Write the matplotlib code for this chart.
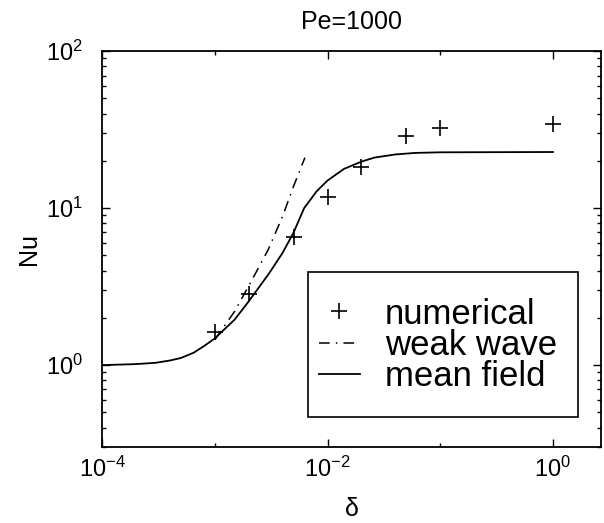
import numpy as np
import matplotlib
matplotlib.use("Agg")
import matplotlib.pyplot as plt
from matplotlib.ticker import LogLocator, NullFormatter, FixedLocator
from matplotlib.patches import Rectangle

plt.rcParams['font.family'] = ['Liberation Sans', 'DejaVu Sans']
plt.rcParams['mathtext.fontset'] = 'custom'
plt.rcParams['mathtext.rm'] = 'Liberation Sans'
plt.rcParams['mathtext.it'] = 'Liberation Sans:italic'

# numerical results
num_delta = [1e-3, 2e-3, 5e-3, 1e-2, 2e-2, 5e-2, 1e-1, 1.0]
num_nu = [1.62, 2.82, 6.6, 11.7, 18.4, 28.9, 32.4, 34.4]

# weak wave approximation
weak_delta = [1e-3, 1.5e-3, 2e-3, 2.5e-3, 3e-3, 4e-3, 5e-3, 6.3e-3]
weak_nu = [1.45, 2.2, 3.2, 4.3, 5.5, 8.9, 13.8, 21.0]

# mean field theory
mean_delta = [1e-4, 2e-4, 3e-4, 4e-4, 5e-4, 6.5e-4, 8e-4, 1e-3, 1.5e-3, 2e-3, 3e-3,
              4e-3, 5e-3, 6.2e-3, 8e-3, 1e-2, 1.4e-2, 2e-2, 2.6e-2, 4e-2, 6e-2, 1e-1, 1.0]
mean_nu = [1.0, 1.015, 1.035, 1.07, 1.11, 1.2, 1.32, 1.48, 1.95, 2.55, 3.8,
           5.2, 7.0, 10.0, 12.8, 15.0, 17.8, 19.8, 21.0, 22.0, 22.5, 22.7, 22.8]

fig = plt.figure(figsize=(6.04, 5.23), dpi=100)
ax = fig.add_axes([0.169, 0.145, 0.826, 0.757])

ax.plot(num_delta, num_nu, linestyle='none', marker='+', color='black',
        markersize=11, markeredgewidth=1.2, label='numerical')
ax.plot(weak_delta, weak_nu, linestyle='-.', color='black', lw=1.1, label='weak wave',
        dashes=(7, 4, 1, 4))
ax.plot(mean_delta, mean_nu, linestyle='-', color='black', lw=1.3, label='mean field')

ax.set_xscale('log')
ax.set_yscale('log')
ax.set_xlim(1e-4, 10 ** 0.426)
ax.set_ylim(0.3, 100)

ax.xaxis.set_major_locator(FixedLocator([1e-4, 1e-2, 1e0]))
ax.xaxis.set_minor_locator(FixedLocator([1e-3, 1e-1]))
ax.xaxis.set_minor_formatter(NullFormatter())
ax.yaxis.set_major_locator(FixedLocator([1e0, 1e1, 1e2]))
ax.yaxis.set_minor_locator(LogLocator(base=10, subs=np.arange(2, 10), numticks=20))
ax.yaxis.set_minor_formatter(NullFormatter())

ax.tick_params(which='both', direction='in', top=True, right=True, labelsize=17, width=1)
ax.tick_params(which='major', length=6)
ax.tick_params(axis='x', which='major', pad=7)
ax.tick_params(axis='y', which='major', pad=14)
ax.tick_params(which='minor', length=3)
for s in ax.spines.values():
    s.set_linewidth(1.3)

ax.set_title('Pe=1000', fontsize=18, pad=16)
ax.set_xlabel('δ', fontsize=18, labelpad=11)
ax.set_ylabel('Nu', fontsize=18, labelpad=3)

# legend box (axes fraction)
box = Rectangle((0.413, 0.076), 0.541, 0.366, transform=ax.transAxes,
                facecolor='white', edgecolor='black', lw=1.2, zorder=4)
ax.add_patch(box)
leg = ax.legend(loc='upper left', bbox_to_anchor=(0.413, 0.404), borderaxespad=0,
                fontsize=25, frameon=False, handlelength=1.2, handletextpad=0.72,
                labelspacing=-0.05, borderpad=0.3)
leg.set_zorder(5)

fig.savefig('out.png', dpi=100)
